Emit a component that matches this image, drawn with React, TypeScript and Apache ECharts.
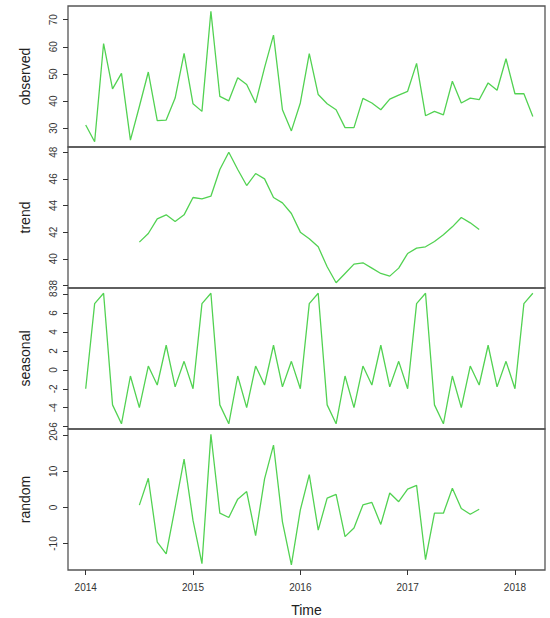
import React, { useEffect, useRef } from "react";
import * as echarts from "echarts";

const START_YEAR = 2014;
const xTicks = [2014, 2015, 2016, 2017, 2018];

const observed = [
  31.2, 25.0, 61.2, 44.5, 50.2, 25.6, 38.0, 50.7, 32.8, 33.0, 41.1, 57.6,
  39.0, 36.2, 73.1, 41.7, 40.1, 48.6, 46.1, 39.3, 52.3, 64.3, 36.8, 29.0,
  39.3, 57.5, 42.4, 39.0, 36.8, 30.2, 30.2, 41.0, 39.3, 36.8, 40.7, 42.2,
  43.6, 53.9, 34.6, 36.2, 34.9, 47.3, 39.3, 41.1, 40.5, 46.7, 44.0, 55.6,
  42.7, 42.7, 34.3,
];

const trend = [
  null, null, null, null, null, null, 41.25, 41.9, 43.0, 43.3, 42.8, 43.3,
  44.6, 44.5, 44.7, 46.7, 48.0, 46.7, 45.5, 46.4, 46.0, 44.6, 44.2, 43.4,
  42.0, 41.5, 40.9, 39.4, 38.2, 38.9, 39.6, 39.7, 39.3, 38.9, 38.7, 39.3,
  40.4, 40.8, 40.9, 41.3, 41.8, 42.4, 43.1, 42.7, 42.2, null, null, null,
  null, null, null,
];

const seasonal = [
  -2.0, 7.0, 8.1, -3.7, -5.7, -0.65, -4.0, 0.4, -1.6, 2.6, -1.8, 0.9,
  -2.0, 7.0, 8.1, -3.7, -5.7, -0.65, -4.0, 0.4, -1.6, 2.6, -1.8, 0.9,
  -2.0, 7.0, 8.1, -3.7, -5.7, -0.65, -4.0, 0.4, -1.6, 2.6, -1.8, 0.9,
  -2.0, 7.0, 8.1, -3.7, -5.7, -0.65, -4.0, 0.4, -1.6, 2.6, -1.8, 0.9,
  -2.0, 7.0, 8.1,
];

const random = [
  null, null, null, null, null, null, 0.65, 8.1, -9.6, -12.9, 0.0, 13.4,
  -3.6, -15.6, 20.3, -1.6, -2.8, 2.3, 4.4, -7.8, 7.9, 17.3, -4.0, -15.9,
  -0.7, 9.1, -6.3, 2.6, 3.6, -8.1, -5.7, 0.7, 1.4, -4.7, 4.0, 1.6,
  5.1, 6.1, -14.5, -1.6, -1.6, 5.3, -0.3, -1.9, -0.5, null, null, null,
  null, null, null,
];

const panelNames = ["observed", "trend", "seasonal", "random"];
const panelData = [observed, trend, seasonal, random];
const yTicks = [
  [30, 40, 50, 60, 70],
  [38, 40, 42, 44, 46, 48],
  [-6, -4, -2, 0, 2, 4, 6, 8],
  [-10, 0, 10, 20],
];

const LINE_COLOR = "#52d252";
const FRAME_COLOR = "#555555";
const FONT = "Liberation Sans, Arial, sans-serif";

function rangeOf(arr: (number | null)[]) {
  const vals = arr.filter((v) => v !== null) as number[];
  const lo = Math.min(...vals);
  const hi = Math.max(...vals);
  const pad = (hi - lo) * 0.04;
  return [lo - pad, hi + pad];
}

export default function App() {
  const ref = useRef<HTMLDivElement>(null);
  useEffect(() => {
    if (!ref.current) return;
    const chart = echarts.init(ref.current, null, { renderer: "svg" });
    const tops = [6, 147, 288, 429];
    const H = 141;
    const grids = tops.map((t) => ({
      left: 68,
      right: 5,
      top: t,
      height: H,
      show: true,
      borderColor: FRAME_COLOR,
      borderWidth: 1.3,
      backgroundColor: "transparent",
    }));
    const xAxes = tops.map((_, i) => ({
      type: "value",
      gridIndex: i,
      position: "bottom",
      min: 2013.835,
      max: 2018.28,
      axisLine: { show: false, onZero: false },
      splitLine: { show: false },
      axisTick: {
        show: i === 3,
        length: 5,
        customValues: xTicks,
        lineStyle: { color: "#333", width: 1 },
      },
      axisLabel: {
        show: i === 3,
        customValues: xTicks,
        fontSize: 10,
        color: "#333",
        fontFamily: FONT,
        margin: 12,
        formatter: (v: number) => String(Math.round(v)),
      },
      name: i === 3 ? "Time" : "",
      nameLocation: "middle",
      nameGap: 33,
      nameTextStyle: { fontSize: 14, color: "#222", fontFamily: FONT },
    }));
    const yAxes = panelData.map((d, i) => {
      const [lo, hi] = rangeOf(d);
      return {
        type: "value",
        gridIndex: i,
        min: lo,
        max: hi,
        axisLine: { show: false, onZero: false },
        splitLine: { show: false },
        axisTick: {
          show: true,
          length: 5,
          customValues: yTicks[i],
          lineStyle: { color: "#333", width: 1 },
        },
        axisLabel: {
          show: true,
          customValues: yTicks[i],
          rotate: 90,
          fontSize: 10,
          color: "#333",
          fontFamily: FONT,
          margin: 10,
          formatter: (v: number) => String(Math.round(v)),
        },
        name: panelNames[i],
        nameLocation: "middle",
        nameRotate: 90,
        nameGap: 36,
        nameTextStyle: { fontSize: 14, color: "#222", fontFamily: FONT },
      };
    });
    const series = panelData.map((d, i) => ({
      type: "line",
      xAxisIndex: i,
      yAxisIndex: i,
      data: d.map((v, k) => [START_YEAR + k / 12, v]),
      showSymbol: false,
      symbol: "none",
      connectNulls: false,
      lineStyle: { color: LINE_COLOR, width: 1.3 },
      silent: true,
    }));
    chart.setOption({
      animation: false,
      backgroundColor: "#ffffff",
      grid: grids,
      xAxis: xAxes,
      yAxis: yAxes,
      series,
    });
    return () => chart.dispose();
  }, []);
  return (
    <div
      ref={ref}
      style={{ position: "fixed", left: 0, top: 0, width: 550, height: 618, background: "#fff" }}
    />
  );
}
